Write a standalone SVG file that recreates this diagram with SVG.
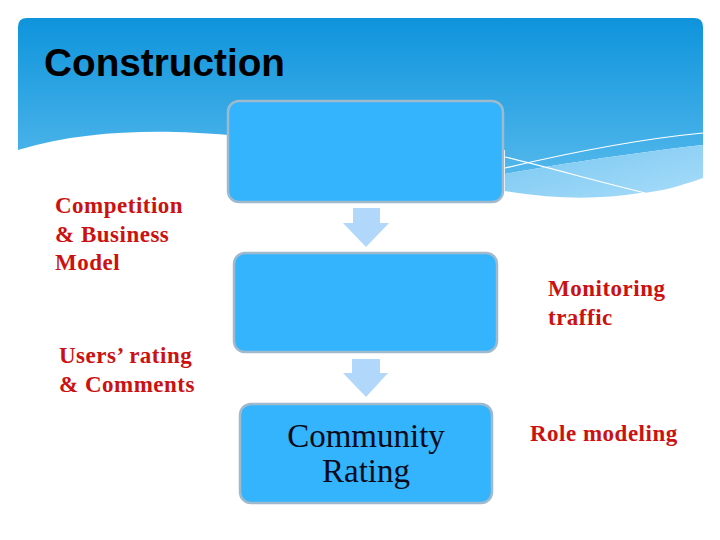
<svg xmlns="http://www.w3.org/2000/svg" width="720" height="540" viewBox="0 0 720 540">
<defs>
<linearGradient id="hdr" x1="0" y1="0" x2="0" y2="1">
<stop offset="0" stop-color="#0e94dc"/>
<stop offset="1" stop-color="#52b7eb"/>
</linearGradient>
<linearGradient id="band" x1="0" y1="0" x2="1" y2="1">
<stop offset="0" stop-color="#78c7f2"/>
<stop offset="1" stop-color="#a8dcf9"/>
</linearGradient>
<style>
.box{fill:#33b4fc;stroke:#9fb9cd;stroke-width:2.5}
.arr{fill:#b1d8fb}
.lbl{font-family:"Liberation Serif","Times New Roman",serif;font-weight:bold;font-size:23px;fill:#cc1111;letter-spacing:0.5px}
.in{font-family:"Liberation Serif","Times New Roman",serif;font-size:33px;fill:#0a0a1a;text-anchor:middle}
.wl{fill:none;stroke:#ffffff;stroke-width:1.2}
</style>
</defs>
<rect width="720" height="540" fill="#ffffff"/>
<g id="header">
<path d="M18,27 Q18,18 27,18 H694 Q703,18 703,27 V145 C640,152 560,164 505,174 L505,150 H228 V135 C170,130 90,128 18,150 Z" fill="url(#hdr)"/>
<path d="M505,174 C560,164 640,152 703,145 V178 C680,186 660,192 640,193 C600,199 560,200 505,191 Z" fill="url(#band)"/>
<path class="wl" d="M505,168 C560,155 630,140 703,133"/>
<path class="wl" d="M505,157 C550,168 600,182 645,193"/>
<text x="44" y="76" font-family="'Liberation Sans',Arial,sans-serif" font-weight="bold" font-size="39" fill="#000000" textLength="241" lengthAdjust="spacingAndGlyphs">Construction</text>
</g>
<g id="connectors">
<path class="arr" d="M353,208 H380 V223 H389 L366,247 L343,223 H353 Z"/>
<path class="arr" d="M352,359 H380 V373 H388 L366,397 L343,373 H352 Z"/>
</g>
<g id="node1"><rect class="box" x="228" y="101" width="275" height="101" rx="11"/></g>
<g id="node2"><rect class="box" x="234" y="253" width="263" height="99" rx="11"/></g>
<g id="node3"><rect class="box" x="240" y="404" width="252" height="99" rx="11"/>
<text class="in" x="366" y="447">Community</text>
<text class="in" x="366" y="482">Rating</text></g>
<g id="label-competition"><text class="lbl" x="55" y="213">Competition</text><text class="lbl" x="55" y="242">&amp; Business</text><text class="lbl" x="55" y="270">Model</text></g>
<g id="label-users"><text class="lbl" x="59" y="363">Users’ rating</text><text class="lbl" x="59" y="392">&amp; Comments</text></g>
<g id="label-monitoring"><text class="lbl" x="548" y="296">Monitoring</text><text class="lbl" x="548" y="325">traffic</text></g>
<g id="label-role"><text class="lbl" x="530" y="441">Role modeling</text></g>
</svg>
